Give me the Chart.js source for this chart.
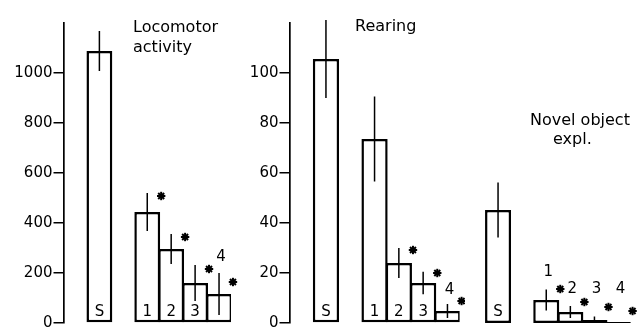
<!DOCTYPE html>
<html><head><meta charset="utf-8">
<script src="https://cdn.jsdelivr.net/npm/chart.js@4"></script>
<style>
html,body{margin:0;padding:0;background:#fff;width:639px;height:328px;overflow:hidden;position:relative;}
.p{position:absolute;top:0;}
.t{position:absolute;font-family:"DejaVu Sans";font-size:16px;color:#000;line-height:20px;white-space:nowrap;}
</style></head><body>
<div class="p" style="left:0px"><canvas id="c1" width="240" height="336"></canvas></div>
<div class="p" style="left:240px"><canvas id="c2" width="225" height="336"></canvas></div>
<div class="p" style="left:450px"><canvas id="c3" width="189" height="336"></canvas></div>
<div class="t" style="left:133px;top:17px">Locomotor<br>activity</div>
<div class="t" style="left:355px;top:16px">Rearing</div>
<div class="t" style="left:530px;top:110px">Novel object</div>
<div class="t" style="left:553px;top:129px">expl.</div>
<script>
// Categories (blank slots are spacing between groups)
const groups = ['', 'S', '', '1', '2', '3', '4'];

// Locomotor activity
const locoValues = [null, 1088, null, 444, 296, 160, 116];
const locoErr    = [null, 80, null, 76, 60, 72, 84];
const locoStar   = [null, null, null, 508, 344, 216, 164];
const locoLabelAt = [null, null, null, null, null, null, 264];
const locoTicks = [0, 200, 400, 600, 800, 1000];

// Rearing
const rearValues = [null, 105.6, null, 73.6, 24, 16, 4.8];
const rearErr    = [null, 15.6, null, 17, 6, 4.5, 2.8];
const rearStar   = [null, null, null, null, 29.2, 20, 8.8];
const rearLabelAt = [null, null, null, null, null, null, 13.2];
const rearTicks = [0, 20, 40, 60, 80, 100];

// Novel object exploration
const novelValues = [null, 45.2, null, 9.2, 4.4, 1.2, 0.4];
const novelErr    = [null, 11, null, 4.2, 2.4, 1.4, 0];
const novelStar   = [null, null, null, 13.6, 8.4, 6.4, 4.8];
const novelLabelAt = [null, null, null, 20.4, 13.6, 13.6, 13.6];

function drawStar(ctx, x, y, r) {
  ctx.save();
  ctx.strokeStyle = '#000'; ctx.fillStyle = '#000'; ctx.lineWidth = 2;
  for (let k = 0; k < 4; k++) {
    const a = k * Math.PI / 4;
    ctx.beginPath();
    ctx.moveTo(x - r * Math.cos(a), y - r * Math.sin(a));
    ctx.lineTo(x + r * Math.cos(a), y + r * Math.sin(a));
    ctx.stroke();
  }
  ctx.beginPath(); ctx.arc(x, y, 2.4, 0, Math.PI * 2); ctx.fill();
  ctx.restore();
}

function makeChart(id, cfg) {
  const annot = {
    id: 'annot' + id,
    afterDatasetsDraw(chart) {
      const ctx = chart.ctx, ys = chart.scales.y;
      const meta = chart.getDatasetMeta(0);
      ctx.save();
      meta.data.forEach((bar, i) => {
        const v = cfg.values[i];
        if (v == null) return;
        const e = cfg.err[i];
        if (e) {
          ctx.beginPath();
          ctx.strokeStyle = '#000'; ctx.lineWidth = 1.5;
          ctx.moveTo(bar.x, ys.getPixelForValue(v + e));
          ctx.lineTo(bar.x, ys.getPixelForValue(Math.max(v - e, 0)));
          ctx.stroke();
        }
        ctx.fillStyle = '#000';
        ctx.font = '15px "DejaVu Sans"';
        ctx.textAlign = 'center'; ctx.textBaseline = 'middle';
        const la = cfg.labelAt[i];
        const ly = la == null ? ys.getPixelForValue(0) - 11 : ys.getPixelForValue(la);
        ctx.fillText(groups[i], bar.x + (la == null ? 0 : 2), ly);
        if (cfg.star[i] != null) drawStar(ctx, bar.x + bar.width / 2 + 1, ys.getPixelForValue(cfg.star[i]), 4.2);
      });
      ctx.restore();
    }
  };
  return new Chart(document.getElementById(id), {
    type: 'bar',
    data: { labels: groups, datasets: [{
      data: cfg.values, backgroundColor: '#fff', borderColor: '#000',
      borderWidth: 2.5, borderSkipped: false, barPercentage: 1.08, categoryPercentage: 1
    }] },
    options: {
      responsive: false, maintainAspectRatio: false, animation: false, devicePixelRatio: 1,
      layout: { padding: { left: cfg.padLeft, right: cfg.padRight, top: 23, bottom: 13 } },
      plugins: { legend: { display: false }, tooltip: { enabled: false } },
      scales: {
        x: { display: false, offset: true },
        y: {
          display: cfg.showAxis, min: 0, max: cfg.max,
          afterFit: s => { s.width = cfg.axisWidth; },
          afterBuildTicks: s => { s.ticks = cfg.ticks.map(v => ({ value: v })); },
          border: { color: '#000', width: 1.7 },
          grid: { drawOnChartArea: false, tickLength: 10, color: '#000', lineWidth: 1.5 },
          ticks: { color: '#000', font: { family: 'DejaVu Sans', size: 15 }, padding: 1,
                   callback: v => String(v) }
        }
      }
    },
    plugins: [annot]
  });
}

makeChart('c1', { values: locoValues, err: locoErr, star: locoStar, labelAt: locoLabelAt, ticks: locoTicks,
  max: 1200, showAxis: true, axisWidth: 63.5, padLeft: 0, padRight: 9 });
makeChart('c2', { values: rearValues, err: rearErr, star: rearStar, labelAt: rearLabelAt, ticks: rearTicks,
  max: 120, showAxis: true, axisWidth: 49.5, padLeft: 0, padRight: 5.4 });
makeChart('c3', { values: novelValues, err: novelErr, star: novelStar, labelAt: novelLabelAt, ticks: [],
  max: 120, showAxis: false, axisWidth: 0, padLeft: 11.9, padRight: 8.4 });
</script>
</body></html>
